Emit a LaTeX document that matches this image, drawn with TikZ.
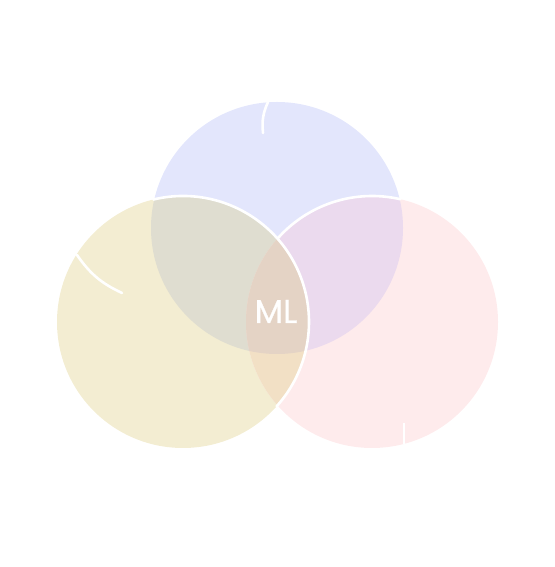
\documentclass[tikz,border=0pt]{standalone}
\usepackage{fontspec}
\setmainfont{Poppins}
\definecolor{cblue}{HTML}{E3E6FC}
\definecolor{cyel}{HTML}{F3EDD2}
\definecolor{cpink}{HTML}{FEEBEC}
\definecolor{cyb}{HTML}{DFDDD0}
\definecolor{cbp}{HTML}{EBDAEE}
\definecolor{cyp}{HTML}{F2E0C5}
\definecolor{cybp}{HTML}{E4D3C5}
\begin{document}
\begin{tikzpicture}[x=1bp,y=1bp,
  sep/.style={draw=white,line width=2.6bp,line cap=round},
  lbl/.style={text=white,font=\fontsize{33bp}{33bp}\selectfont,inner sep=0pt}]
\useasboundingbox (0,0) rectangle (555,567);
\coordinate (B) at (277,339);
\coordinate (Y) at (183,245);
\coordinate (P) at (372,245);
\def\R{126}
\fill[cblue] (B) circle[radius=\R];
\fill[cyel] (Y) circle[radius=\R];
\fill[cpink] (P) circle[radius=\R];
\begin{scope}
  \clip (B) circle[radius=\R];
  \fill[cyb] (Y) circle[radius=\R];
  \fill[cbp] (P) circle[radius=\R];
\end{scope}
\begin{scope}
  \clip (Y) circle[radius=\R];
  \fill[cyp] (P) circle[radius=\R];
  \clip (P) circle[radius=\R];
  \fill[cybp] (B) circle[radius=\R];
\end{scope}
% white separators
\draw[sep] (Y) ++(103.6:\R) arc[start angle=103.6,end angle=-42,radius=\R];
\draw[sep] (P) ++(138:\R) arc[start angle=138,end angle=77,radius=\R];
\coordinate (t1a) at (268,465);
\coordinate (t1b) at (263,434);
\draw[sep] (t1a) to[bend right=15] (t1b);
\coordinate (t2a) at (77,312);
\coordinate (t2b) at (122,274);
\draw[sep] (t2a) to[bend right=15] (t2b);
\coordinate (t3a) at (404,144);
\coordinate (t3b) at (404,123);
\draw[sep,line cap=butt] (t3a) -- (t3b);
\node[lbl,anchor=base] (ml) at (276,244) {\addfontfeature{FakeBold=0.6}ML};
\end{tikzpicture}
\end{document}
